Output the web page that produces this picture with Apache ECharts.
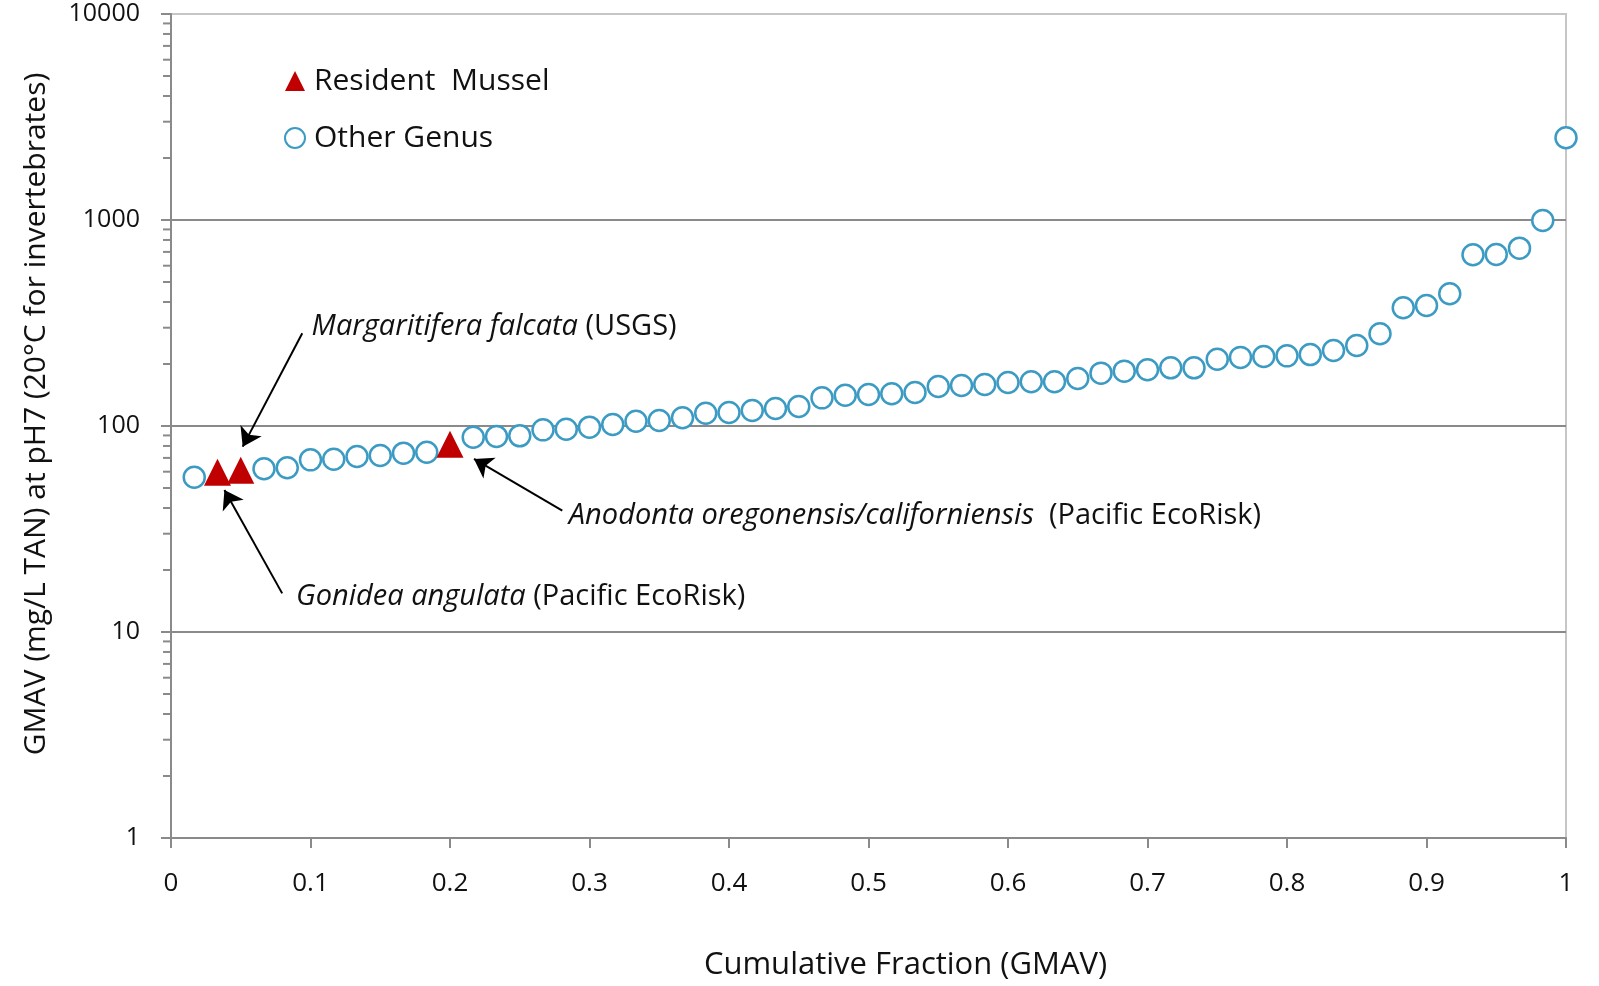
<!DOCTYPE html>
<html>
<head>
<meta charset="utf-8">
<title>GMAV cumulative fraction</title>
<script src="https://cdn.jsdelivr.net/npm/echarts@6/dist/echarts.min.js"></script>
<style>
  html, body { margin: 0; padding: 0; background: #fff; }
  #chart { width: 1599px; height: 986px; }
</style>
</head>
<body>
<div id="chart"></div>
<script>
  // GMAV values sorted ascending, rank 1..60 (mg/L TAN at pH7)
  var gmav = [
    56.4, 59.7, 61.0, 62.0, 62.7, 68.5, 69.0, 71.1, 71.9, 73.8,
    74.6, 81.5, 88.2, 88.9, 89.6, 95.8, 96.5, 98.7, 101.7, 105.5,
    106.3, 109.6, 115.4, 116.3, 118.9, 121.6, 124.3, 137.0, 141.1, 142.2,
    143.3, 145.4, 155.5, 157.3, 159.0, 162.6, 163.9, 163.9, 170.1, 180.5,
    184.6, 187.5, 191.6, 191.6, 210.9, 215.3, 217.3, 219.0, 222.2, 232.6,
    245.9, 280.3, 374.8, 384.6, 438.2, 677.8, 680.0, 729.8, 994.5, 2506
  ];
  // ranks that are resident mussels
  var residentRanks = [2, 3, 12];
  var seriesNames = ["Resident  Mussel", "Other Genus"];
  var xTicks = [0, 0.1, 0.2, 0.3, 0.4, 0.5, 0.6, 0.7, 0.8, 0.9, 1];
  var yDecades = [1, 10, 100, 1000, 10000];
  var minorTickValues = [];
  yDecades.slice(0, 4).forEach(function (d) {
    for (var m = 2; m <= 9; m++) minorTickValues.push(m * d);
  });

  // annotation arrows [from, to] and label anchors, in data units
  var annotations = [
    { text: "{i|Margaritifera falcata} (USGS)", at: [0.1008, 303], from: [0.0941, 282], to: [0.0514, 79.4] },
    { text: "{i|Anodonta oregonensis/californiensis}  (Pacific EcoRisk)", at: [0.2852, 36.6], from: [0.2805, 38.8], to: [0.2172, 69.2] },
    { text: "{i|Gonidea angulata} (Pacific EcoRisk)", at: [0.0896, 14.9], from: [0.0797, 15.4], to: [0.0383, 48.9] }
  ];

  var FONT = "Open Sans";
  var n = gmav.length;
  var resident = [], other = [];
  gmav.forEach(function (v, i) {
    var rank = i + 1;
    var pt = [rank / n, v];
    if (residentRanks.indexOf(rank) >= 0) resident.push(pt); else other.push(pt);
  });

  var chart = echarts.init(document.getElementById("chart"));

  var option = {
    animation: false,
    backgroundColor: "#fff",
    grid: {
      left: 171, right: 33, top: 14, bottom: 148,
      outerBoundsMode: "none",
      containLabel: false,
      show: true, borderColor: "#c6c6c6", borderWidth: 2, backgroundColor: "transparent"
    },
    legend: {
      orient: "vertical",
      left: 279, top: 61,
      itemWidth: 20, itemHeight: 20, itemGap: 27,
      data: seriesNames,
      textStyle: { fontFamily: FONT, fontSize: 30, color: "#111", lineHeight: 30, padding: [0, 0, 0, 4] }
    },
    xAxis: {
      type: "value", min: 0, max: 1, interval: 0.1,
      name: "Cumulative Fraction (GMAV)",
      nameLocation: "middle", nameGap: 112,
      nameTextStyle: { fontFamily: FONT, fontSize: 31, color: "#111", padding: [0, 0, 0, 74] },
      axisLine: { show: true, lineStyle: { color: "#8a8a8a", width: 2 } },
      axisTick: { show: true, length: 10, lineStyle: { color: "#8a8a8a", width: 2 } },
      axisLabel: {
        margin: 33, fontFamily: FONT, fontSize: 26, color: "#111",
        formatter: function (v) {
          var hit = xTicks.filter(function (t) { return Math.abs(t - v) < 1e-9; });
          return hit.length ? String(hit[0]) : "";
        }
      },
      splitLine: { show: false }
    },
    yAxis: {
      type: "log", logBase: 10, min: 1, max: 10000,
      name: "GMAV (mg/L TAN) at pH7 (20°C for invertebrates)",
      nameLocation: "middle", nameGap: 120, nameRotate: 90,
      nameTextStyle: { fontFamily: FONT, fontSize: 30, color: "#111", padding: [0, 0, 0, 24] },
      axisLine: { show: true, lineStyle: { color: "#8a8a8a", width: 2 } },
      axisTick: { show: true, length: 10, lineStyle: { color: "#8a8a8a", width: 2 } },
      axisLabel: {
        margin: 31, fontFamily: FONT, fontSize: 25, color: "#111",
        formatter: function (v) { return String(Math.round(v)); }
      },
      splitLine: { show: true, showMinLine: false, showMaxLine: false, lineStyle: { color: "#8a8a8a", width: 2 } }
    },
    series: [
      {
        name: "Other Genus",
        type: "scatter",
        symbol: "circle",
        symbolSize: 21,
        itemStyle: { color: "#fff", borderColor: "#3b9bc3", borderWidth: 2.5, opacity: 1 },
        data: other,
        z: 3
      },
      {
        name: "Resident  Mussel",
        type: "scatter",
        symbol: "triangle",
        symbolSize: [27, 27],
        itemStyle: { color: "#c00000", opacity: 1 },
        data: resident,
        z: 4
      },
      {
        // minor log ticks on the y axis
        type: "custom",
        silent: true,
        clip: false,
        coordinateSystem: "cartesian2d",
        data: minorTickValues.map(function (v) { return [0, v]; }),
        renderItem: function (params, api) {
          var p = api.coord([api.value(0), api.value(1)]);
          return {
            type: "line",
            shape: { x1: p[0] - 8, y1: p[1], x2: p[0], y2: p[1] },
            style: { stroke: "#8a8a8a", lineWidth: 2 }
          };
        },
        z: 2
      },
      {
        // annotations
        type: "scatter",
        silent: true,
        data: [],
        markLine: {
          silent: true,
          symbol: ["none", "arrow"],
          symbolSize: 18,
          label: { show: false },
          lineStyle: { color: "#000", width: 2, type: "solid" },
          itemStyle: { color: "#000" },
          data: annotations.map(function (a) {
            return [{ coord: a.from }, { coord: a.to }];
          })
        },
        markPoint: {
          silent: true,
          symbol: "circle",
          symbolSize: 0,
          data: annotations.map(function (a) {
            return {
              coord: a.at,
              label: {
                show: true,
                position: [0, 0],
                align: "left",
                verticalAlign: "middle",
                formatter: a.text,
                fontFamily: FONT,
                fontSize: 29,
                color: "#111",
                rich: { i: { fontFamily: FONT, fontSize: 29, fontStyle: "italic", color: "#111" } }
              }
            };
          })
        },
        z: 5
      }
    ]
  };

  chart.setOption(option);
</script>
</body>
</html>
